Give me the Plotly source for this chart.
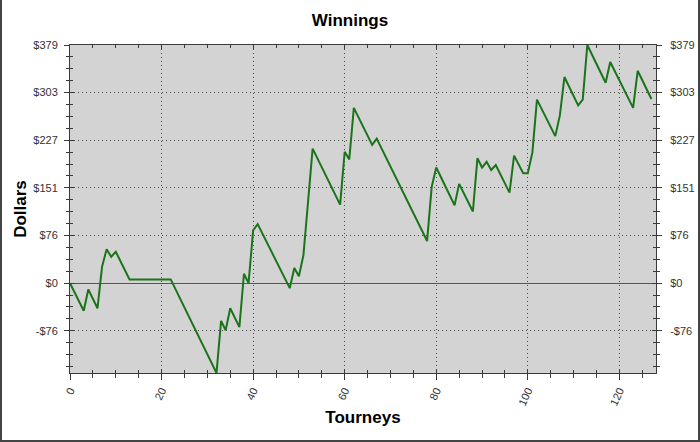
import plotly.graph_objects as go

# ---- data ----
tourney = [0, 3, 4, 6, 7, 8, 9, 10, 13, 22, 32, 33, 34, 35, 37, 38, 39, 40, 41, 48,
           49, 50, 51, 53, 59, 60, 61, 62, 66, 67, 78, 79, 80, 84, 85, 88, 89, 90,
           91, 92, 93, 96, 97, 99, 100, 101, 102, 106, 107, 108, 111, 112, 113,
           117, 118, 123, 124, 127]
winnings = [0, -44, -10, -40, 26, 54, 42, 50, 6, 6, -143, -60, -75, -40, -70, 15,
            0, 84, 94, -8, 24, 11, 45, 214, 125, 209, 197, 279, 220, 230, 67, 153,
            184, 124, 158, 114, 199, 184, 193, 180, 188, 144, 203, 175, 175, 208,
            292, 234, 267, 328, 283, 292, 379, 319, 352, 279, 338, 293]

x_major = [0, 20, 40, 60, 80, 100, 120]
x_labels = ["0", "20", "40", "60", "80", "100", "120"]
y_major = [-75.8, 0, 75.8, 151.6, 227.4, 303.2, 379]
y_labels = ["-$76", "$0", "$76", "$151", "$227", "$303", "$379"]

X_RANGE = [0, 128]
Y_RANGE = [-143, 379]

x_minor = list(range(0, 130, 5))
y_step = 379 / 20
y_minor = [k * y_step for k in range(-7, 21)]

W, H = 700, 442
ML, MR, MT, MB = 70, 44, 45, 69

AXC = "#3a3a3a"
GRIDC = "#4a4a4a"
TICKF = dict(family="Liberation Sans, Arial, sans-serif", size=11, color="#333333")
TITLEF = dict(family="Liberation Sans, Arial, sans-serif", size=17, color="#000000")

fig = go.Figure()
fig.add_trace(go.Scatter(x=tourney, y=winnings, mode="lines",
                         line=dict(color="#1a741a", width=2),
                         showlegend=False, hoverinfo="x+y"))
# invisible traces so the overlay axes (extra tick sets) are drawn
for xa, ya in [("x2", "y2"), ("x3", "y3"), ("x3", "y4")]:
    fig.add_trace(go.Scatter(x=tourney, y=winnings, mode="none", xaxis=xa, yaxis=ya,
                             showlegend=False, hoverinfo="skip"))

common_x = dict(range=X_RANGE, showline=True, linecolor=AXC, linewidth=1,
                zeroline=False, tickcolor=AXC, fixedrange=True, automargin=False)
common_y = dict(range=Y_RANGE, showline=True, linecolor=AXC, linewidth=1,
                tickcolor=AXC, fixedrange=True, automargin=False)

fig.update_layout(
    width=W, height=H,
    margin=dict(l=ML, r=MR, t=MT, b=MB, autoexpand=False),
    paper_bgcolor="white", plot_bgcolor="#d3d3d3",
    title=dict(text="<b>Winnings</b>", x=0.5, xref="container", xanchor="center",
               y=1 - 20 / H, yref="container", yanchor="middle", font=TITLEF),
    xaxis=dict(**common_x, side="bottom",
               tickmode="array", tickvals=x_major, ticktext=x_labels,
               tickangle=-65, tickfont=TICKF, ticks="outside", ticklen=6,
               minor=dict(tickmode="array", tickvals=x_minor, ticks="outside",
                          ticklen=4, tickcolor=AXC, showgrid=False),
               showgrid=True, gridcolor=GRIDC, griddash="1px,3px", gridwidth=1,
               title=dict(text="<b>Tourneys</b>", font=TITLEF, standoff=4)),
    xaxis2=dict(**common_x, overlaying="x", side="bottom", anchor="y",
                tickmode="array", tickvals=x_major, showticklabels=False,
                ticks="inside", ticklen=4,
                minor=dict(tickmode="array", tickvals=x_minor, ticks="inside",
                           ticklen=3, tickcolor=AXC, showgrid=False),
                showgrid=False),
    xaxis3=dict(**common_x, overlaying="x", side="top", anchor="y",
                tickmode="array", tickvals=x_major, showticklabels=False,
                ticks="inside", ticklen=4,
                minor=dict(tickmode="array", tickvals=x_minor, ticks="inside",
                           ticklen=3, tickcolor=AXC, showgrid=False),
                showgrid=False),
    yaxis=dict(**common_y, side="left",
               tickmode="array", tickvals=y_major, ticktext=y_labels,
               tickfont=TICKF, ticks="outside", ticklen=5, ticklabelstandoff=4,
               minor=dict(tickmode="array", tickvals=y_minor, ticks="outside",
                          ticklen=3, tickcolor=AXC, showgrid=False),
               showgrid=True, gridcolor=GRIDC, griddash="1px,3px", gridwidth=1,
               zeroline=True, zerolinecolor="#555555", zerolinewidth=1,
               title=dict(text="<b>Dollars</b>", font=TITLEF, standoff=2)),
    yaxis2=dict(**common_y, overlaying="y", side="right", anchor="x",
                tickmode="array", tickvals=y_major, ticktext=y_labels,
                tickfont=TICKF, ticks="outside", ticklen=5, ticklabelstandoff=6,
                minor=dict(tickmode="array", tickvals=y_minor, ticks="outside",
                           ticklen=3, tickcolor=AXC, showgrid=False),
                showgrid=False, zeroline=False),
    yaxis3=dict(**common_y, overlaying="y", side="left", anchor="x",
                tickmode="array", tickvals=y_major, showticklabels=False,
                ticks="inside", ticklen=4,
                minor=dict(tickmode="array", tickvals=y_minor, ticks="inside",
                           ticklen=3, tickcolor=AXC, showgrid=False),
                showgrid=False, zeroline=False),
    yaxis4=dict(**common_y, overlaying="y", side="right", anchor="x",
                tickmode="array", tickvals=y_major, showticklabels=False,
                ticks="inside", ticklen=4,
                minor=dict(tickmode="array", tickvals=y_minor, ticks="inside",
                           ticklen=3, tickcolor=AXC, showgrid=False),
                showgrid=False, zeroline=False),
)

# outer figure border
pw = W - ML - MR
ph = H - MT - MB
fig.add_shape(type="rect", xref="paper", yref="paper",
              x0=-(ML - 1) / pw, x1=(W - ML - 1) / pw,
              y0=-(MB - 1) / ph, y1=(H - MT - 1) / ph,
              line=dict(color="#444444", width=2), fillcolor="rgba(0,0,0,0)",
              layer="above")

fig.write_html(
    "out.html",
    config={"displayModeBar": False},
    post_script="document.body.style.margin='0';document.body.style.padding='0';"
                "document.body.style.overflow='hidden';",
)
